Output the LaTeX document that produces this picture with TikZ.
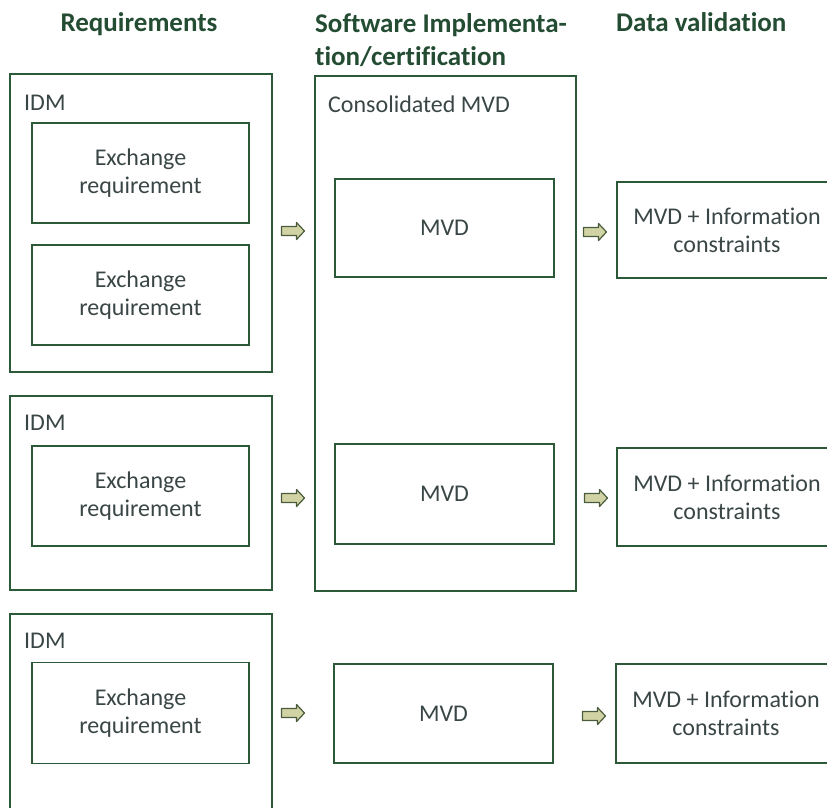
\documentclass[tikz,border=0pt]{standalone}
\usepackage{fontspec}
\setmainfont{Carlito}[Ligatures=NoCommon]
\definecolor{boxline}{HTML}{2C5A38}
\definecolor{bodytext}{HTML}{3A4646}
\definecolor{headtext}{HTML}{234C33}
\definecolor{arrowfill}{HTML}{D2D3A4}
\definecolor{arrowline}{HTML}{4A5C3C}
\begin{document}
\begin{tikzpicture}[x=1pt,y=-1pt,
  box/.style={draw=boxline, line width=1.8, inner sep=0, align=center,
    text=bodytext, font=\fontsize{24}{28}\selectfont},
  lbl/.style={anchor=base west, inner sep=0, text=bodytext, font=\fontsize{24}{28}\selectfont},
  head/.style={inner sep=0, text=headtext, font=\fontsize{27}{33}\selectfont\bfseries},
  blk/.pic={\draw[fill=arrowfill, draw=arrowline, line width=1.2, line join=round]
      (-11.5,-4.5) -- (3.5,-4.5) -- (3.5,-8.5) -- (11.5,0) -- (3.5,8.5) -- (3.5,4.5) -- (-11.5,4.5) -- cycle;}
]
\path[use as bounding box] (0,0) rectangle (827,807);
\clip (0,0) rectangle (827,807);

% headers
\node[head, anchor=base] (h1) at (139,31) {Requirements};
\node[head, anchor=base west, align=left] (h2) at (315,65) {Software Implementa-\\tion/certification};
\node[head, anchor=base west] (h3) at (616,31) {Data validation};

% requirements column
\node[box, minimum width=262, minimum height=298] (idm1) at (141,223) {};
\node[lbl] (idm1l) at (24,110) {IDM};
\node[box, minimum width=217, minimum height=100] (er1) at (140.5,173) {Exchange\\requirement};
\node[box, minimum width=217, minimum height=100] (er2) at (140.5,295) {Exchange\\requirement};

\node[box, minimum width=262, minimum height=194] (idm2) at (141,493) {};
\node[lbl] (idm2l) at (24,430) {IDM};
\node[box, minimum width=217, minimum height=100] (er3) at (140.5,496) {Exchange\\requirement};

\node[box, minimum width=262, minimum height=226] (idm3) at (141,727) {};
\node[lbl] (idm3l) at (24,648) {IDM};
\node[box, minimum width=217, minimum height=101] (er4) at (140.5,713) {Exchange\\requirement};

% software column
\node[box, minimum width=261, minimum height=515] (cmvd) at (445.5,333.5) {};
\node[lbl] (cmvdl) at (328,112) {Consolidated MVD};
\node[box, minimum width=219, minimum height=98] (mvd1) at (444.5,228) {MVD};
\node[box, minimum width=219, minimum height=100] (mvd2) at (444.5,494) {MVD};
\node[box, minimum width=219, minimum height=99] (mvd3) at (443.5,713.5) {MVD};

% data validation column
\node[box, minimum width=220, minimum height=96] (dv1) at (727,230) {MVD + Information\\constraints};
\node[box, minimum width=220, minimum height=98] (dv2) at (727,497) {MVD + Information\\constraints};
\node[box, minimum width=220, minimum height=99] (dv3) at (726,713.5) {MVD + Information\\constraints};

% block arrows
\pic at (293,231) {blk};
\pic at (293,498) {blk};
\pic at (293,713) {blk};
\pic at (595,232) {blk};
\pic at (596,498) {blk};
\pic at (594,716) {blk};
\end{tikzpicture}
\end{document}
